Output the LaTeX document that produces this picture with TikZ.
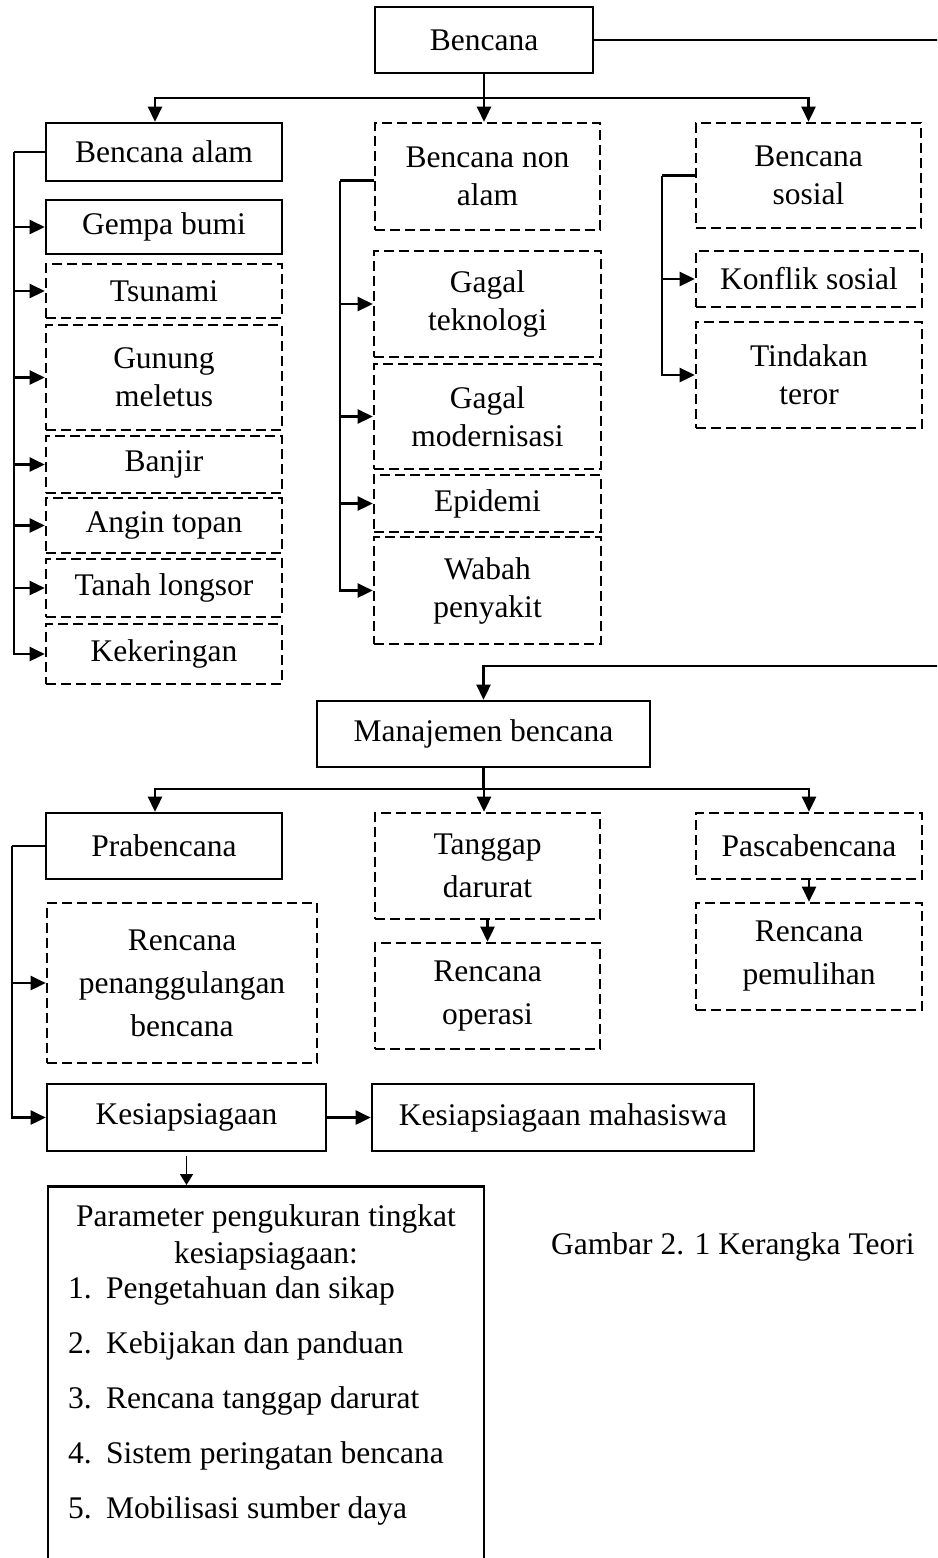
\documentclass[tikz,border=0pt]{standalone}
\usepackage{fontspec}
\setmainfont{Liberation Serif}
\usetikzlibrary{arrows.meta}
\begin{document}
\begin{tikzpicture}[x=1pt,y=-1pt,
  every node/.style={font=\fontsize{31.5}{38}\selectfont, inner sep=0pt, align=center},
  sz/.style 2 args={minimum width=#1, minimum height=#2},
  sbox/.style={draw, line width=2.6pt},
  dbox/.style={draw, line width=2.6pt, dash pattern=on 10pt off 5pt},
  lowtxt/.style={font=\fontsize{31.5}{43}\selectfont},
  conn/.style={line width=2.6pt},
  arr/.style={line width=2.6pt, -{Triangle[length=15pt,width=14pt]}},
  arrthin/.style={line width=1.8pt, -{Triangle[length=11pt,width=13pt]}}
]
\useasboundingbox (0,0) rectangle (937,1558);
\fill[white] (0,0) rectangle (937,1558);
\clip (0,0) rectangle (937,1558);

% ---- top level
\node[sbox, sz={218}{66}] (bencana) at (484,40) {Bencana};
\node[sbox, sz={236}{58}] (alam) at (164,152) {Bencana alam};
\node[dbox, sz={225}{107}] (nonalam) at (487.5,176.5) {Bencana non\\alam};
\node[dbox, sz={225}{105}] (sosial) at (808.5,175.5) {Bencana\\sosial};

% ---- bencana alam
\node[sbox, sz={236}{54}] (gempa) at (164,227) {Gempa bumi};
\node[dbox, sz={236}{54}] (tsunami) at (164,291) {Tsunami};
\node[dbox, sz={236}{105}] (gunung) at (164,377.5) {Gunung\\meletus};
\node[dbox, sz={236}{57}] (banjir) at (164,464.5) {Banjir};
\node[dbox, sz={236}{55}] (angin) at (164,525.5) {Angin topan};
\node[dbox, sz={236}{58}] (tanah) at (164,588) {Tanah longsor};
\node[dbox, sz={236}{60}] (kering) at (164,654) {Kekeringan};

% ---- bencana non alam
\node[dbox, sz={227}{106}] (teknologi) at (487.5,304) {Gagal\\teknologi};
\node[dbox, sz={227}{105}] (modern) at (487.5,416.5) {Gagal\\modernisasi};
\node[dbox, sz={227}{57}] (epidemi) at (487.5,503.5) {Epidemi};
\node[dbox, sz={227}{107}] (wabah) at (487.5,590.5) {Wabah\\penyakit};

% ---- bencana sosial
\node[dbox, sz={226}{56}] (konflik) at (809,279) {Konflik sosial};
\node[dbox, sz={226}{106}] (teror) at (809,375) {Tindakan\\teror};

% ---- manajemen
\node[sbox, lowtxt, sz={333}{66}] (manajemen) at (483.5,734) {Manajemen bencana};
\node[sbox, lowtxt, sz={236}{66}] (pra) at (164,846) {Prabencana};
\node[dbox, lowtxt, sz={225}{106}] (tanggap) at (487.5,866) {Tanggap\\darurat};
\node[dbox, lowtxt, sz={226}{66}] (pasca) at (809,846) {Pascabencana};
\node[dbox, lowtxt, sz={270}{160}] (rpb) at (182,983) {Rencana\\penanggulangan\\bencana};
\node[dbox, lowtxt, sz={225}{106}] (rop) at (487.5,996) {Rencana\\operasi};
\node[dbox, lowtxt, sz={226}{107}] (rpem) at (809,956.5) {Rencana\\pemulihan};
\node[sbox, sz={279}{67}] (kesiap) at (186.5,1117.5) {Kesiapsiagaan};
\node[sbox, sz={382}{67}] (mhs) at (563,1117.5) {Kesiapsiagaan mahasiswa};

% ---- parameter box
\node[sbox, sz={436}{430}, anchor=north] (param) at (266,1185) {};
\node[anchor=base] (pt1) at (266,1226) {Parameter pengukuran tingkat};
\node[anchor=base] (pt2) at (266,1263) {kesiapsiagaan:};
\node[anchor=base west] (i1) at (68,1298) {\makebox[38pt][l]{1.}Pengetahuan dan sikap};
\node[anchor=base west] (i2) at (68,1353) {\makebox[38pt][l]{2.}Kebijakan dan panduan};
\node[anchor=base west] (i3) at (68,1408) {\makebox[38pt][l]{3.}Rencana tanggap darurat};
\node[anchor=base west] (i4) at (68,1463) {\makebox[38pt][l]{4.}Sistem peringatan bencana};
\node[anchor=base west] (i5) at (68,1518) {\makebox[38pt][l]{5.}Mobilisasi sumber daya};

\node[anchor=west] (caption) at (551,1247) {Gambar 2. 1 Kerangka Teori};

% ---- connectors top
\coordinate (rt) at (940,41);
\draw[conn] (bencana.east) -- (bencana.east -| rt);
\coordinate (b1) at (484,98);
\coordinate (xA) at (155,0);
\draw[conn] (bencana.south) -- (bencana.south |- b1);
\draw[arr] (b1) -| (xA |- alam.north);
\draw[arr] (b1) -- (b1 |- nonalam.north);
\draw[arr] (b1) -| (sosial.north);

% alam bracket
\coordinate (xL) at (14,0);
\draw[conn] (alam.west) -- (alam.west -| xL);
\foreach \b in {gempa,tsunami,gunung,banjir,angin,tanah,kering}
  \draw[arr] (alam.west -| xL) |- (\b.west);

% non alam bracket
\coordinate (xN) at (340,0);
\coordinate (nb) at ([yshift=-4pt]nonalam.west);
\draw[conn] (nb) -- (nb -| xN);
\foreach \b in {teknologi,modern,epidemi,wabah}
  \draw[arr] (nb -| xN) |- (\b.west);

% sosial bracket
\coordinate (xS) at (662,0);
\draw[conn] (sosial.west) -- (sosial.west -| xS);
\foreach \b in {konflik,teror}
  \draw[arr] (sosial.west -| xS) |- (\b.west);

% ---- manajemen connectors
\coordinate (rm) at (940,666);
\draw[arr] (rm) -| (manajemen.north);
\coordinate (b2) at (484,789);
\draw[conn] (manajemen.south) -- (manajemen.south |- b2);
\draw[arr] (b2) -| (xA |- pra.north);
\draw[arr] (b2) -- (b2 |- tanggap.north);
\draw[arr] (b2) -| (pasca.north);
\draw[arr] (tanggap.south) -- (rop.north);
\draw[arr] (pasca.south) -- (rpem.north);

% pra bracket
\coordinate (xP) at (12,0);
\draw[conn] (pra.west) -- (pra.west -| xP);
\foreach \b in {rpb,kesiap}
  \draw[arr] (pra.west -| xP) |- (\b.west);

\draw[arr] (kesiap.east) -- (mhs.west);
\coordinate (ks) at ([yshift=-4pt]kesiap.south);
\draw[arrthin] (ks) -- (ks |- param.north);
\end{tikzpicture}
\end{document}
